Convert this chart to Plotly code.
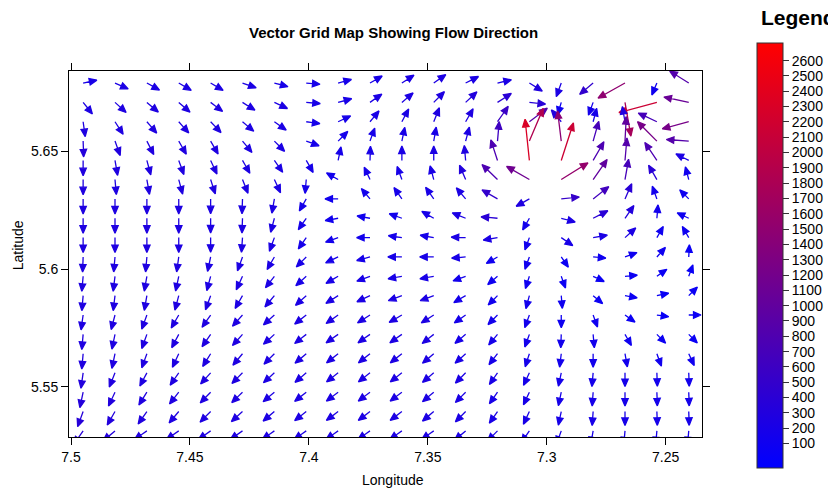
import math
import plotly.graph_objects as go

# ---------------- data ----------------
chart_title = "Vector Grid Map Showing Flow Direction"
x_label = "Longitude"
y_label = "Latitude"
legend_title = "Legend"

# grid-cell longitudes (columns, left to right on the reversed axis) and latitudes (rows, top to bottom)
lons = [7.4949, 7.4815, 7.4681, 7.4547, 7.4413, 7.4279, 7.4145, 7.4011, 7.3877, 7.3743,
        7.3609, 7.3475, 7.3341, 7.3207, 7.3073, 7.2939, 7.2805, 7.2671, 7.2537, 7.2403]
lats = [5.6788, 5.6706, 5.6624, 5.6542, 5.6460, 5.6379, 5.6297, 5.6215, 5.6133, 5.6051,
        5.5969, 5.5887, 5.5805, 5.5723, 5.5641, 5.5560, 5.5478, 5.5396, 5.5314]

x_tick_vals = [7.5, 7.45, 7.4, 7.35, 7.3, 7.25]
x_tick_text = ["7.5", "7.45", "7.4", "7.35", "7.3", "7.25"]
y_tick_vals = [5.55, 5.6, 5.65]
y_tick_text = ["5.55", "5.6", "5.65"]
legend_ticks = [100, 200, 300, 400, 500, 600, 700, 800, 900, 1000, 1100, 1200, 1300,
                1400, 1500, 1600, 1700, 1800, 1900, 2000, 2100, 2200, 2300, 2400, 2500, 2600]
legend_min, legend_max = -60, 2715

# flow direction as drawn on the chart (degrees, counter-clockwise from the right-hand direction)
direction_deg = [
    [12, -24, -29, -30, -30, -19, -15, -5, 15, 30, 33, 35, 27, 13, -32, 250, 220, 209, 247, 148],
    [-51, -42, -40, -41, -37, -32, -25, -5, 15, 35, 40, 45, 43, 33, -6, 254, 250, 280, 195, 168],
    [-82, -57, -49, -48, -46, -40, -35, -8, 25, 50, 62, 68, 60, 55, 37, 130, 75, 100, 155, 195],
    [-88, -70, -63, -60, -60, -50, -45, -20, 45, 70, 78, 80, 75, 85, 67, 97, 74, 87, 135, 176],
    [-90, -80, -75, -70, -65, -60, -55, -60, 78, 88, 90, 90, 95, 108, 96, 72, 60, 85, 124, 153],
    [-90, -85, -80, -75, -72, -68, -65, -95, 150, 115, 110, 105, 113, 136, 150, 32, 55, 80, 120, 105],
    [-90, -90, -90, -90, -90, -92, -100, -120, 180, 130, 125, 125, 130, 150, 209, 6, 38, 66, 110, 135],
    [-90, -90, -90, -90, -90, -92, -105, -125, 190, 170, 160, 150, 158, 175, 240, -15, 27, 55, 85, 155],
    [-90, -90, -90, -90, -90, -94, -110, -125, 200, 180, 172, 170, 178, 190, 250, -35, 10, 42, 60, 120],
    [-92, -95, -95, -98, -102, -110, -120, -135, 205, 195, 180, 180, 185, 210, 250, -55, -5, 20, 48, 87],
    [-95, -97, -100, -102, -105, -115, -128, -138, 210, 200, 190, 190, 200, 220, 252, -70, -25, 5, 35, 70],
    [-95, -97, -100, -105, -110, -120, -130, -138, 212, 205, 200, 200, 210, 225, 255, -85, -40, -10, 12, 45],
    [-98, -105, -110, -120, -125, -132, -138, -142, 215, 212, 210, 212, 215, 225, 250, 270, 290, 325, 352, 0],
    [-95, -102, -110, -118, -125, -132, -138, -142, 215, 215, 215, 218, 220, 230, 250, 268, 275, 300, 315, 315],
    [-95, -102, -110, -115, -122, -130, -135, -140, 218, 218, 218, 220, 222, 232, 252, 263, 270, 280, 290, 295],
    [-98, -112, -118, -125, -132, -135, -138, -140, 218, 218, 218, 220, 225, 235, 245, 258, 265, 270, 272, 272],
    [-102, -115, -122, -128, -134, -136, -140, -142, 217, 217, 217, 220, 225, 235, 245, 258, 266, 270, 272, 272],
    [-110, -120, -125, -130, -135, -138, -140, -142, 217, 217, 217, 220, 225, 235, 245, 258, 266, 270, 272, 272],
    [-125, -140, -145, -145, -145, -145, -145, -145, 215, 215, 215, 215, 220, 225, 235, 250, 260, 265, 265, 265],
]

# flow magnitude (legend units)
magnitude = [
    [200, 230, 230, 230, 230, 230, 200, 180, 180, 200, 230, 250, 230, 220, 290, 230, 470, 1500, 110, 850],
    [250, 270, 270, 270, 270, 250, 230, 200, 200, 230, 250, 280, 310, 390, 370, 90, 160, 1750, 2150, 1080],
    [270, 270, 270, 270, 270, 250, 230, 180, 180, 200, 230, 270, 270, 560, 850, 300, 180, 300, 700, 1230],
    [330, 290, 280, 280, 270, 250, 230, 170, 170, 180, 200, 200, 230, 620, 1850, 1450, 700, 1000, 1230, 850],
    [290, 280, 270, 270, 270, 250, 230, 180, 180, 200, 220, 230, 270, 780, 2300, 2150, 780, 850, 780, 230],
    [280, 270, 270, 270, 270, 250, 230, 180, 150, 170, 190, 210, 310, 780, 1150, 1550, 1000, 700, 390, 120],
    [270, 270, 270, 270, 250, 250, 230, 180, 130, 150, 180, 210, 230, 500, 280, 520, 650, 390, 150, 100],
    [270, 270, 270, 270, 250, 250, 230, 180, 130, 130, 150, 180, 230, 390, 150, 230, 390, 310, 150, 100],
    [270, 270, 270, 270, 250, 250, 230, 180, 150, 150, 170, 180, 230, 230, 120, 200, 230, 230, 100, 100],
    [270, 270, 270, 270, 250, 250, 230, 200, 180, 180, 200, 200, 200, 110, 120, 70, 100, 100, 100, 60],
    [270, 270, 270, 270, 250, 250, 230, 200, 200, 200, 200, 200, 150, 100, 100, 70, 60, 70, 60, 50],
    [270, 270, 270, 270, 270, 250, 250, 230, 230, 230, 230, 230, 170, 130, 150, 100, 70, 70, 50, 60],
    [270, 270, 270, 270, 270, 270, 250, 250, 250, 250, 250, 250, 180, 150, 150, 100, 100, 60, 40, 60],
    [280, 270, 270, 270, 270, 270, 250, 250, 250, 250, 250, 250, 190, 170, 150, 150, 150, 100, 70, 50],
    [290, 270, 270, 270, 270, 270, 250, 250, 250, 250, 250, 250, 210, 180, 170, 150, 150, 150, 130, 110],
    [310, 290, 270, 270, 270, 270, 250, 250, 250, 250, 250, 250, 230, 200, 180, 170, 170, 170, 150, 150],
    [330, 300, 280, 270, 270, 270, 250, 250, 250, 250, 250, 250, 230, 200, 190, 180, 180, 180, 170, 170],
    [350, 310, 290, 270, 270, 270, 250, 250, 250, 250, 250, 250, 230, 210, 200, 190, 190, 190, 180, 180],
    [370, 320, 290, 280, 270, 270, 250, 250, 250, 250, 250, 250, 230, 210, 200, 190, 190, 190, 180, 180],
]

# ---------------- layout constants ----------------
OFF = 8                      # page body margin of the html page
PAGE_W, PAGE_H = 836, 490
W, H = PAGE_W - OFF, PAGE_H - OFF
PLOT_L, PLOT_T, PLOT_R, PLOT_B = 69, 71, 705, 437   # plot box in page pixels
ML, MT = PLOT_L - OFF, PLOT_T - OFF
PW, PH = PLOT_R - PLOT_L, PLOT_B - PLOT_T
MR, MB = W - ML - PW, H - MT - PH

x_range = [7.50084, 7.23473]   # reversed longitude axis
y_range = [5.52881, 5.68390]
px_per_x = PW / abs(x_range[0] - x_range[1])
px_per_y = PH / abs(y_range[1] - y_range[0])
x_sign = -1 if x_range[0] > x_range[1] else 1


def paper_x(page_px):
    return (page_px - PLOT_L) / PW


def paper_y(page_py):
    return (PLOT_B - page_py) / PH


FONT = "Liberation Sans, Arial, Helvetica, sans-serif"
colorscale = [[0.0, "rgb(0,0,255)"], [1.0, "rgb(255,0,0)"]]


def value_color(v):
    t = (v - legend_min) / (legend_max - legend_min)
    t = min(max(t, 0.0), 1.0)
    return "rgb(%d,0,%d)" % (round(255 * t), round(255 * (1 - t)))


def px_len(v):
    return 11.5 + 0.013 * v


HEAD_L, HEAD_W = 7.5, 3.2

fig = go.Figure()
for i, lat0 in enumerate(lats):
    for j, lon0 in enumerate(lons):
        a = math.radians(direction_deg[i][j])
        m = magnitude[i][j]
        L = px_len(m)
        ux, uy = math.cos(a), math.sin(a)

        def pt(dx, dy):
            return lon0 + x_sign * dx / px_per_x, lat0 + dy / px_per_y

        tip = pt(L * ux, L * uy)
        bx, by = (L - HEAD_L) * ux, (L - HEAD_L) * uy
        base = pt(bx, by)
        left = pt(bx - HEAD_W * uy, by + HEAD_W * ux)
        right = pt(bx + HEAD_W * uy, by - HEAD_W * ux)
        tail = (lon0, lat0)
        pts = [tail, base, left, tip, right, base]
        c = value_color(m)
        fig.add_trace(go.Scatter(
            x=[p[0] for p in pts], y=[p[1] for p in pts],
            mode="lines", fill="toself", fillcolor=c,
            line=dict(color=c, width=1.3),
            hoverinfo="skip", showlegend=False))

# colour key
fig.add_trace(go.Scatter(
    x=[None], y=[None], mode="markers", showlegend=False, hoverinfo="skip",
    marker=dict(color=[legend_min], cmin=legend_min, cmax=legend_max,
                colorscale=colorscale, showscale=True,
                colorbar=dict(
                    thickness=26, thicknessmode="pixels",
                    len=425, lenmode="pixels",
                    x=paper_x(760), xanchor="left", xref="paper",
                    y=paper_y(43), yanchor="top", yref="paper",
                    xpad=0, ypad=0,
                    outlinewidth=1, outlinecolor="#333333",
                    ticks="outside", ticklen=6, tickwidth=1, tickcolor="#333333",
                    tickvals=legend_ticks, ticktext=[str(t) for t in legend_ticks],
                    tickfont=dict(family=FONT, size=14, color="black"),
                ))))

axis_common = dict(showgrid=False, zeroline=False, showline=True, linecolor="black",
                   linewidth=1, mirror="ticks", ticks="outside", ticklen=7,
                   tickcolor="black", tickwidth=1,
                   tickfont=dict(family=FONT, size=14, color="black"))

fig.update_layout(
    width=W, height=H,
    margin=dict(l=ML, r=MR, t=MT, b=MB, pad=0),
    paper_bgcolor="white", plot_bgcolor="white",
    xaxis=dict(range=x_range, tickvals=x_tick_vals, ticktext=x_tick_text, **axis_common),
    yaxis=dict(range=y_range, tickvals=y_tick_vals, ticktext=y_tick_text, **axis_common),
    font=dict(family=FONT, color="black"),
    annotations=[
        dict(text="<b>" + chart_title + "</b>", x=paper_x(395), y=paper_y(32),
             xref="paper", yref="paper", xanchor="center", yanchor="middle",
             showarrow=False, font=dict(family=FONT, size=15, color="black")),
        dict(text=x_label, x=paper_x(395), y=paper_y(480),
             xref="paper", yref="paper", xanchor="center", yanchor="middle",
             showarrow=False, font=dict(family=FONT, size=14, color="black")),
        dict(text=y_label, x=paper_x(18), y=paper_y(245), textangle=-90,
             xref="paper", yref="paper", xanchor="center", yanchor="middle",
             showarrow=False, font=dict(family=FONT, size=14, color="black")),
        dict(text="<b>" + legend_title + "</b>", x=paper_x(762), y=paper_y(17),
             xref="paper", yref="paper", xanchor="left", yanchor="middle",
             showarrow=False, font=dict(family=FONT, size=21, color="black")),
    ],
)

fig.write_html("out.html")
